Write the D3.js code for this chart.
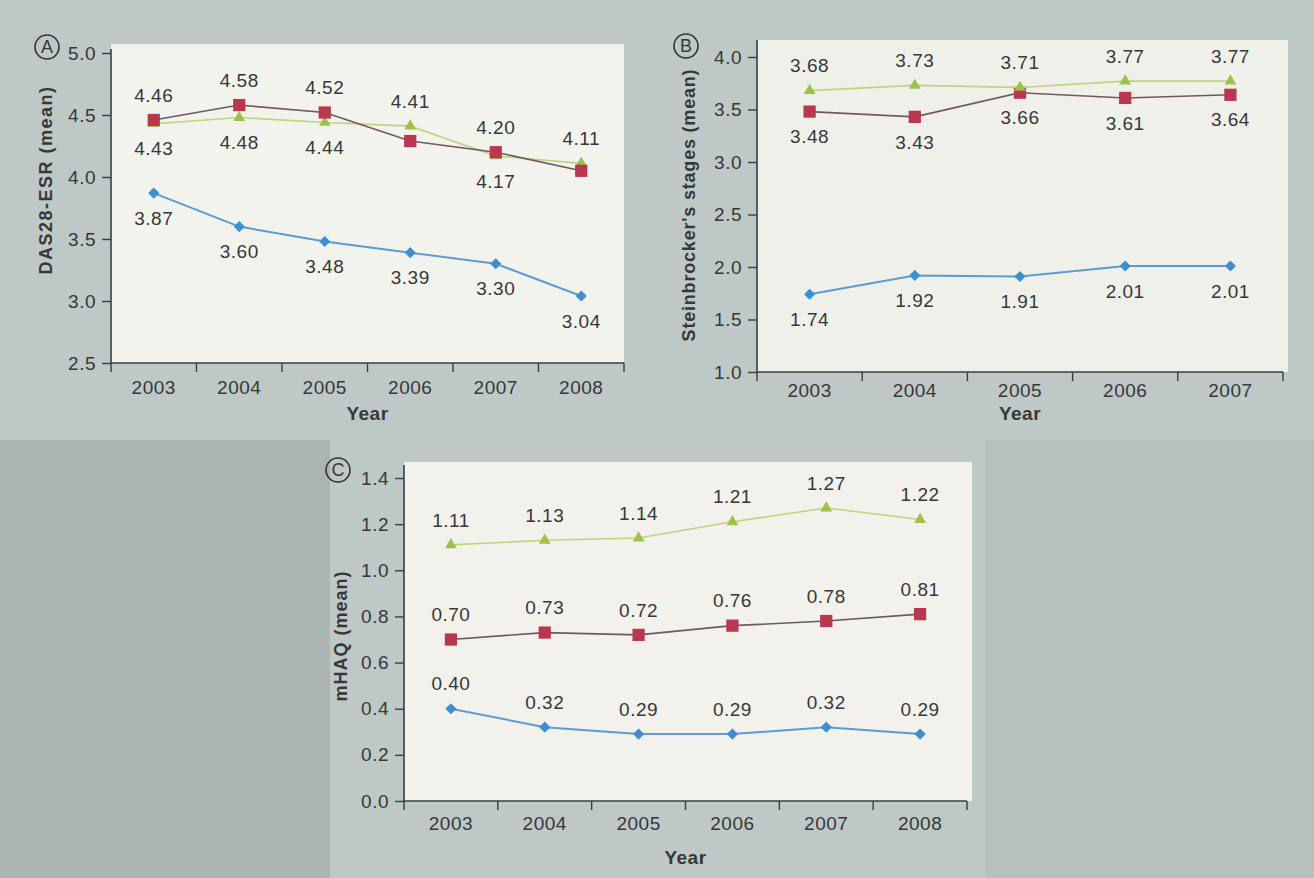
<!DOCTYPE html>
<html>
<head>
<meta charset="utf-8">
<title>DAS28-ESR, Steinbrocker's stages and mHAQ by year</title>
<script src="https://d3js.org/d3.v7.min.js"></script>
<style>
  body { margin: 0; background: #bcc6c5; }
  svg text { font-family: "Liberation Sans", Arial, sans-serif; fill: #363838; }
</style>
</head>
<body>
<svg width="1314" height="878"></svg>
<script>
// years on the x axis
var years = ["2003", "2004", "2005", "2006", "2007", "2008"];
var yearsB = ["2003", "2004", "2005", "2006", "2007"];

// panel A - DAS28-ESR (mean)
var dasBlue  = [3.87, 3.60, 3.48, 3.39, 3.30, 3.04];
var dasRed   = [4.46, 4.58, 4.52, 4.29, 4.20, 4.05];
var dasGreen = [4.43, 4.48, 4.44, 4.41, 4.17, 4.11];
// which values carry a label, and on which side (1 above, -1 below)
var dasBlueShow  = [1, 1, 1, 1, 1, 1];
var dasRedShow   = [1, 1, 1, 0, 1, 0];
var dasGreenShow = [1, 1, 1, 1, 1, 1];
var dasBlueSide  = [-1, -1, -1, -1, -1, -1];
var dasRedSide   = [1, 1, 1, 1, 1, 1];
var dasGreenSide = [-1, -1, -1, 1, -1, 1];
var dasTicks = [2.5, 3.0, 3.5, 4.0, 4.5, 5.0];

// panel B - Steinbrocker's stages (mean)
var stBlue  = [1.74, 1.92, 1.91, 2.01, 2.01];
var stRed   = [3.48, 3.43, 3.66, 3.61, 3.64];
var stGreen = [3.68, 3.73, 3.71, 3.77, 3.77];
var stShow  = [1, 1, 1, 1, 1];
var stBlueSide  = [-1, -1, -1, -1, -1];
var stRedSide   = [-1, -1, -1, -1, -1];
var stGreenSide = [1, 1, 1, 1, 1];
var stTicks = [1.0, 1.5, 2.0, 2.5, 3.0, 3.5, 4.0];

// panel C - mHAQ (mean)
var hBlue  = [0.40, 0.32, 0.29, 0.29, 0.32, 0.29];
var hRed   = [0.70, 0.73, 0.72, 0.76, 0.78, 0.81];
var hGreen = [1.11, 1.13, 1.14, 1.21, 1.27, 1.22];
var hShow  = [1, 1, 1, 1, 1, 1];
var hSide  = [1, 1, 1, 1, 1, 1];
var hTicks = [0.0, 0.2, 0.4, 0.6, 0.8, 1.0, 1.2, 1.4];

var svg = d3.select("svg");

// scanned page background
svg.append("rect").attr("width", 1314).attr("height", 878).attr("fill", "#bec8c7");
svg.append("rect").attr("x", 0).attr("y", 440).attr("width", 330).attr("height", 438).attr("fill", "#abb5b4");
svg.append("rect").attr("x", 985).attr("y", 440).attr("width", 329).attr("height", 438).attr("fill", "#b6c0bf");

var styles = {
  blue:  { line: "#5d9bd0", fill: "#3f8fd0", width: 2,   shape: "diamond" },
  red:   { line: "#6f5862", fill: "#b9384f", width: 1.6, shape: "square" },
  green: { line: "#bcd47c", fill: "#9cc24c", width: 1.6, shape: "triangle" }
};

function marker(shape) {
  if (shape === "diamond") return d3.symbol().type(d3.symbolSquare).size(62)();
  if (shape === "square") return d3.symbol().type(d3.symbolSquare).size(150)();
  return d3.symbol().type(d3.symbolTriangle).size(60)();
}

function drawPanel(p) {
  var g = svg.append("g");

  var x = d3.scaleBand().domain(p.cats).range([p.left, p.right]);
  var y = d3.scaleLinear().domain(p.domain).range([p.bottom, p.top]);

  // white plot sheet
  g.append("rect")
    .attr("x", p.left).attr("y", p.sheetTop)
    .attr("width", p.sheetRight - p.left).attr("height", p.bottom - p.sheetTop)
    .attr("fill", p.sheet);

  // y axis
  var yAxis = d3.axisLeft(y).tickValues(p.ticks).tickFormat(d3.format(".1f")).tickSize(9).tickPadding(6);
  var ya = g.append("g").attr("transform", "translate(" + p.left + ",0)").call(yAxis);
  ya.select(".domain").remove();
  ya.selectAll(".tick line").attr("stroke", "#34403f").attr("stroke-width", 1.4);
  ya.selectAll(".tick text").attr("font-size", 19).attr("letter-spacing", 0.5).attr("fill", "#3a3c3c");
  g.append("line")
    .attr("x1", p.left).attr("x2", p.left)
    .attr("y1", p.axisTop).attr("y2", p.bottom)
    .attr("stroke", "#34403f").attr("stroke-width", 1.6);

  // x axis: labels centred in bands, ticks on band edges
  var xAxis = d3.axisBottom(x).tickSize(0).tickPadding(0);
  var xa = g.append("g").attr("transform", "translate(0," + p.bottom + ")").call(xAxis);
  xa.select(".domain").remove();
  xa.selectAll(".tick text")
    .attr("y", p.xLabelDy).attr("dy", "0.35em")
    .attr("font-size", 19).attr("letter-spacing", 0.5).attr("fill", "#3a3c3c");
  g.append("line")
    .attr("x1", p.left).attr("x2", p.right)
    .attr("y1", p.bottom).attr("y2", p.bottom)
    .attr("stroke", "#34403f").attr("stroke-width", 1.6);
  var edges = p.cats.map(function(d) { return x(d); }).concat([x.range()[1]]);
  g.selectAll(".edge").data(edges).enter().append("line")
    .attr("x1", function(d) { return d; }).attr("x2", function(d) { return d; })
    .attr("y1", p.bottom).attr("y2", p.bottom + 9)
    .attr("stroke", "#34403f").attr("stroke-width", 1.4);

  // titles
  g.append("text")
    .attr("x", (p.left + p.right) / 2).attr("y", p.xTitleY).attr("dy", "0.35em")
    .attr("text-anchor", "middle").attr("font-size", 19).attr("font-weight", "bold")
    .attr("letter-spacing", 0.5).text("Year");
  g.append("text")
    .attr("transform", "translate(" + p.yTitleX + "," + p.yTitleY + ") rotate(-90)")
    .attr("dy", "0.35em").attr("text-anchor", "middle")
    .attr("font-size", 18).attr("font-weight", "bold")
    .attr("letter-spacing", p.yTitleSpacing).text(p.yTitle);

  // panel letter
  g.append("circle").attr("cx", p.letterX).attr("cy", p.letterY).attr("r", 12)
    .attr("fill", "none").attr("stroke", "#333").attr("stroke-width", 1.6);
  g.append("text").attr("x", p.letterX).attr("y", p.letterY).attr("dy", "0.36em")
    .attr("text-anchor", "middle").attr("font-size", 18).text(p.letter);

  var line = d3.line()
    .x(function(d) { return x(d.cat) + x.bandwidth() / 2; })
    .y(function(d) { return y(d.v); });

  p.series.forEach(function(s) {
    var st = styles[s.color];
    var pts = p.cats.map(function(c, i) {
      return { cat: c, v: s.values[i], show: s.show[i], side: s.side[i] };
    });
    g.append("path").datum(pts).attr("d", line)
      .attr("fill", "none").attr("stroke", st.line).attr("stroke-width", st.width);
    g.selectAll(null).data(pts).enter().append("path")
      .attr("d", marker(st.shape))
      .attr("transform", function(d) {
        return "translate(" + (x(d.cat) + x.bandwidth() / 2) + "," + y(d.v) + ")" +
          (st.shape === "diamond" ? " rotate(45)" : "");
      })
      .attr("fill", st.fill);
    g.selectAll(null).data(pts.filter(function(d) { return d.show; })).enter().append("text")
      .attr("x", function(d) { return x(d.cat) + x.bandwidth() / 2; })
      .attr("y", function(d) { return y(d.v) - d.side * 25; })
      .attr("dy", "0.35em").attr("text-anchor", "middle")
      .attr("font-size", 19).attr("letter-spacing", 0.5).attr("fill", "#3a3c3c")
      .text(function(d) { return d3.format(".2f")(d.v); });
  });
}

drawPanel({
  cats: years, domain: [2.5, 5.0], ticks: dasTicks,
  left: 111, right: 624, top: 53, bottom: 363, axisTop: 49,
  sheetTop: 44, sheetRight: 624, sheet: "#f3f3ee",
  xLabelDy: 24, xTitleY: 413,
  yTitle: "DAS28-ESR (mean)", yTitleX: 46, yTitleY: 180, yTitleSpacing: 1.5,
  letter: "A", letterX: 47, letterY: 47,
  series: [
    { color: "blue", values: dasBlue, show: dasBlueShow, side: dasBlueSide },
    { color: "green", values: dasGreen, show: dasGreenShow, side: dasGreenSide },
    { color: "red", values: dasRed, show: dasRedShow, side: dasRedSide }
  ]
});

drawPanel({
  cats: yearsB, domain: [1.0, 4.0], ticks: stTicks,
  left: 757, right: 1283, top: 57, bottom: 372, axisTop: 40,
  sheetTop: 40, sheetRight: 1288, sheet: "#f0f0eb",
  xLabelDy: 18, xTitleY: 413,
  yTitle: "Steinbrocker's stages (mean)", yTitleX: 689, yTitleY: 205, yTitleSpacing: 0.8,
  letter: "B", letterX: 686, letterY: 46,
  series: [
    { color: "blue", values: stBlue, show: stShow, side: stBlueSide },
    { color: "red", values: stRed, show: stShow, side: stRedSide },
    { color: "green", values: stGreen, show: stShow, side: stGreenSide }
  ]
});

drawPanel({
  cats: years, domain: [0.0, 1.4], ticks: hTicks,
  left: 404, right: 967, top: 478, bottom: 801, axisTop: 465,
  sheetTop: 462, sheetRight: 972, sheet: "#f2f1ec",
  xLabelDy: 22, xTitleY: 857,
  yTitle: "mHAQ (mean)", yTitleX: 341, yTitleY: 636, yTitleSpacing: 1,
  letter: "C", letterX: 338, letterY: 470,
  series: [
    { color: "blue", values: hBlue, show: hShow, side: hSide },
    { color: "red", values: hRed, show: hShow, side: hSide },
    { color: "green", values: hGreen, show: hShow, side: hSide }
  ]
});
</script>
</body>
</html>
